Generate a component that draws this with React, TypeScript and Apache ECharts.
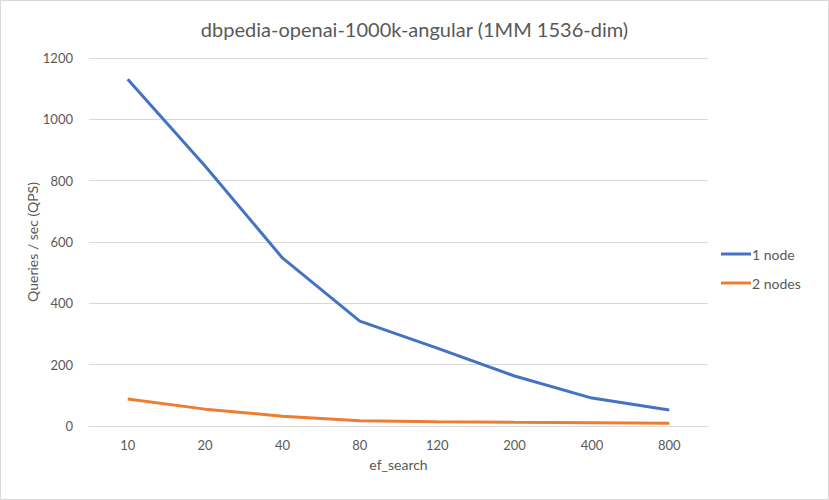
import React, { useEffect, useRef } from "react";
import * as echarts from "echarts";

const categories = ["10", "20", "40", "80", "120", "200", "400", "800"];
const oneNode = [1131, 848, 548, 342, 254, 163, 91, 52];
const twoNodes = [88, 55, 32, 17, 14, 12, 11, 9];
const seriesNames = ["1 node", "2 nodes"];
const titleText = "dbpedia-openai-1000k-angular (1MM 1536-dim)";
const yAxisName = "Queries / sec (QPS)";
const xAxisName = "ef_search";

const FONT = "Lato, 'Open Sans', sans-serif";
const TEXT = "#595959";

export default function App() {
  const ref = useRef<HTMLDivElement>(null);
  useEffect(() => {
    if (!ref.current) return;
    const chart = echarts.init(ref.current, undefined, { renderer: "svg" });
    chart.setOption({
      animation: false,
      backgroundColor: "#ffffff",
      textStyle: { fontFamily: FONT },
      title: {
        text: titleText,
        left: "center",
        top: 14,
        textStyle: { fontFamily: FONT, fontSize: 20, fontWeight: "normal", color: TEXT },
      },
      graphic: [
        {
          type: "rect",
          shape: { x: 0.5, y: 0.5, width: 828, height: 499 },
          style: { fill: "none", stroke: "#d9d9d9", lineWidth: 1 },
          silent: true,
        },
      ],
      legend: {
        orient: "vertical",
        left: 716,
        top: 242,
        itemWidth: 30,
        itemHeight: 3,
        itemGap: 15,
        icon: "rect",
        textStyle: { fontFamily: FONT, fontSize: 14, color: TEXT, padding: [0, 0, 0, -4] },
        data: seriesNames,
      },
      grid: { left: 89, right: 121, top: 58, bottom: 74 },
      xAxis: {
        type: "category",
        data: categories,
        boundaryGap: true,
        name: xAxisName,
        nameLocation: "middle",
        nameGap: 31,
        nameTextStyle: { fontFamily: FONT, fontSize: 14, color: TEXT },
        axisLine: { show: true, lineStyle: { color: "#d9d9d9" } },
        axisTick: { show: false },
        axisLabel: { fontFamily: FONT, fontSize: 13, color: TEXT, margin: 12 },
      },
      yAxis: {
        type: "value",
        min: 0,
        max: 1200,
        interval: 200,
        name: yAxisName,
        nameLocation: "middle",
        nameGap: 50,
        nameMoveOverlap: false,
        nameRotate: 90,
        nameTextStyle: { fontFamily: FONT, fontSize: 14, color: TEXT },
        axisLine: { show: false },
        axisTick: { show: false },
        axisLabel: {
          fontFamily: FONT,
          fontSize: 13,
          color: TEXT,
          margin: 16,
          formatter: (v: number) => String(v),
        },
        splitLine: { lineStyle: { color: "#d9d9d9" } },
      },
      series: [
        {
          name: seriesNames[0],
          type: "line",
          data: oneNode,
          showSymbol: false,
          symbol: "none",
          color: "#4472C4",
          lineStyle: { width: 3, color: "#4472C4" },
        },
        {
          name: seriesNames[1],
          type: "line",
          data: twoNodes,
          showSymbol: false,
          symbol: "none",
          color: "#ED7D31",
          lineStyle: { width: 3, color: "#ED7D31" },
        },
      ],
    });
    return () => chart.dispose();
  }, []);
  return (
    <div
      ref={ref}
      style={{ position: "absolute", left: 0, top: 0, width: 829, height: 500 }}
    />
  );
}
